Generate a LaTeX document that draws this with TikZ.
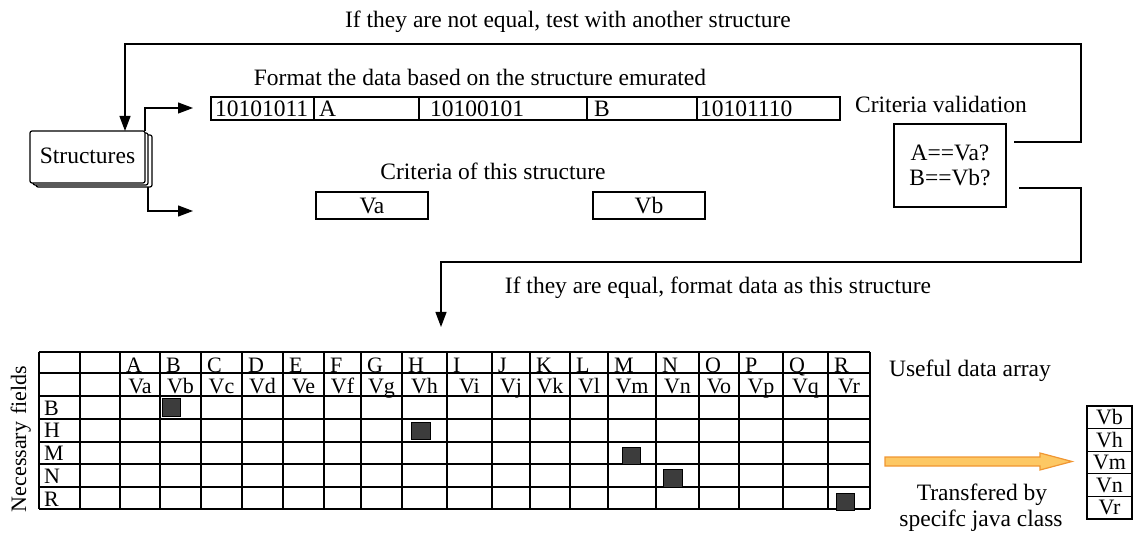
\documentclass[tikz,border=0pt]{standalone}
\usepackage{fontspec}
\setmainfont{Liberation Serif}
\usetikzlibrary{arrows.meta}
\begin{document}
\begin{tikzpicture}[x=1pt,y=-1pt,
  every node/.style={font=\fontsize{23.5}{27}\selectfont, inner sep=0pt, outer sep=0pt},
  tabtxt/.style={font=\fontsize{22}{26}\selectfont},
  conn/.style={line width=1.2pt},
  arr/.style={line width=1.2pt, -{Triangle[length=15pt,width=11pt]}},
  boxnode/.style={draw, line width=1.2pt, fill=white},
  gridline/.style={line width=1.3pt},
  fsq/.style={draw=black, line width=0.8pt, fill={rgb,255:red,60;green,60;blue,60}},
  orangearrow/.style={draw={rgb,255:red,240;green,150;blue,50}, line width=1.2pt, fill={rgb,255:red,253;green,200;blue,100}},
]
\useasboundingbox (0,0) rectangle (1134,534);

% ---------- Structures stack ----------
\draw[line width=1.2pt, fill=white, rounded corners=2pt] (36,135) rectangle (152,187);
\draw[line width=1.2pt, fill=white, rounded corners=2pt] (33,133) rectangle (148,185);
\node[boxnode, rounded corners=2pt, minimum width=115pt, minimum height=52pt] (struct) at (87.5,157) {};
\node[anchor=base] (structtxt) at (87.5,164) {Structures};

% ---------- top texts ----------
\node[anchor=base] (notequal) at (568,28) {If they are not equal, test with another structure};
\node[anchor=base] (fmt) at (480,86) {Format the data based on the structure emurated};
\node[anchor=base] (critval) at (941,113) {Criteria validation};

% ---------- data strip ----------
\draw[line width=1.2pt] (211,97) rectangle (840,120);
\foreach \x in {314,419,587,697} \draw[line width=1.2pt] (\x,97) -- (\x,120);
\node[anchor=base west] (d1) at (215,117) {10101011};
\node[anchor=base west] (d2) at (319,117) {A};
\node[anchor=base west] (d3) at (430,117) {10100101};
\node[anchor=base west] (d4) at (594,117) {B};
\node[anchor=base west] (d5) at (700,117) {10101110};

% ---------- criteria ----------
\node[anchor=base] (critof) at (493,180) {Criteria of this structure};
\node[boxnode, minimum width=112pt, minimum height=27pt] (va) at (372,205.5) {Va};
\node[boxnode, minimum width=112pt, minimum height=27pt] (vb) at (649,205.5) {Vb};

% ---------- criteria validation box ----------
\node[boxnode, minimum width=112pt, minimum height=83pt] (crit) at (950,165.5) {};
\node[anchor=base] (c1) at (950,161) {A==Va?};
\node[anchor=base] (c2) at (950,186) {B==Vb?};

% ---------- connectors ----------
\coordinate (nq) at (1014,142);
\coordinate (strtop) at (125,131);
\draw[arr] (nq) -- (1081,142) -- (1081,44) -- (125,44) -- (strtop);

\coordinate (eq) at (1019,188);
\coordinate (tabarr) at (441,327);
\draw[arr] (eq) -- (1081,188) -- (1081,262) -- (441,262) -- (tabarr);
\node[anchor=base] (equal) at (718,294) {If they are equal, format data as this structure};

\coordinate (up1) at (145,131);
\coordinate (upend) at (193,108);
\draw[arr] (up1) |- (upend);
\coordinate (lo1) at (148,187);
\coordinate (loend) at (193,211);
\draw[arr] (lo1) |- (loend);

% ---------- table ----------
\foreach \x in {39,80,120,160,201,242,283,324,361,402,447,492,530,570,608,656,699,739,783,828,870}
  \draw[gridline] (\x,352) -- (\x,509);
\foreach \y in {352,373,396,419,442,464,487,509}
  \draw[gridline] (39,\y) -- (870,\y);

\foreach \a/\b/\l/\v in {120/160/A/Va,160/201/B/Vb,201/242/C/Vc,242/283/D/Vd,283/324/E/Ve,324/361/F/Vf,361/402/G/Vg,402/447/H/Vh,447/492/I/Vi,492/530/J/Vj,530/570/K/Vk,570/608/L/Vl,608/656/M/Vm,656/699/N/Vn,699/739/O/Vo,739/783/P/Vp,783/828/Q/Vq,828/870/R/Vr}{
  \node[tabtxt, anchor=base west] (h\l) at (\a+6,372) {\l};
  \node[tabtxt, anchor=base] (v\l) at ({(\a+\b)/2},393) {\v};
}
\foreach \l/\y in {B/415,H/437,M/460,N/483,R/506}
  \node[tabtxt, anchor=base west] (r\l) at (44,\y) {\l};

\draw[fsq] (162,398) rectangle (180,416);
\draw[fsq] (411,422) rectangle (430,439);
\draw[fsq] (622,447) rectangle (640,464);
\draw[fsq] (663,469) rectangle (682,487);
\draw[fsq] (836,493) rectangle (854,510);

\node[tabtxt, rotate=90, anchor=base] (nf) at (26,439) {Necessary\hspace{7pt}fields};
\node[anchor=base] (useful) at (970,376) {Useful data array};

% ---------- transfer ----------
\draw[orangearrow] (885,457) -- (1040,457) -- (1040,453) -- (1072,461.5) -- (1040,470) -- (1040,466) -- (885,466) -- cycle;
\node[anchor=base] (tr1) at (982,500) {Transfered by};
\node[anchor=base] (tr2) at (981,526) {specifc java class};

\foreach \i/\t/\y in {1/Vb/417.3,2/Vh/439.9,3/Vm/462.5,4/Vn/485.1,5/Vr/507.7}
  \node[tabtxt, draw, line width=1.2pt, minimum width=45pt, minimum height=22.6pt] (s\i) at (1109.5,\y) {\t};
\end{tikzpicture}
\end{document}
